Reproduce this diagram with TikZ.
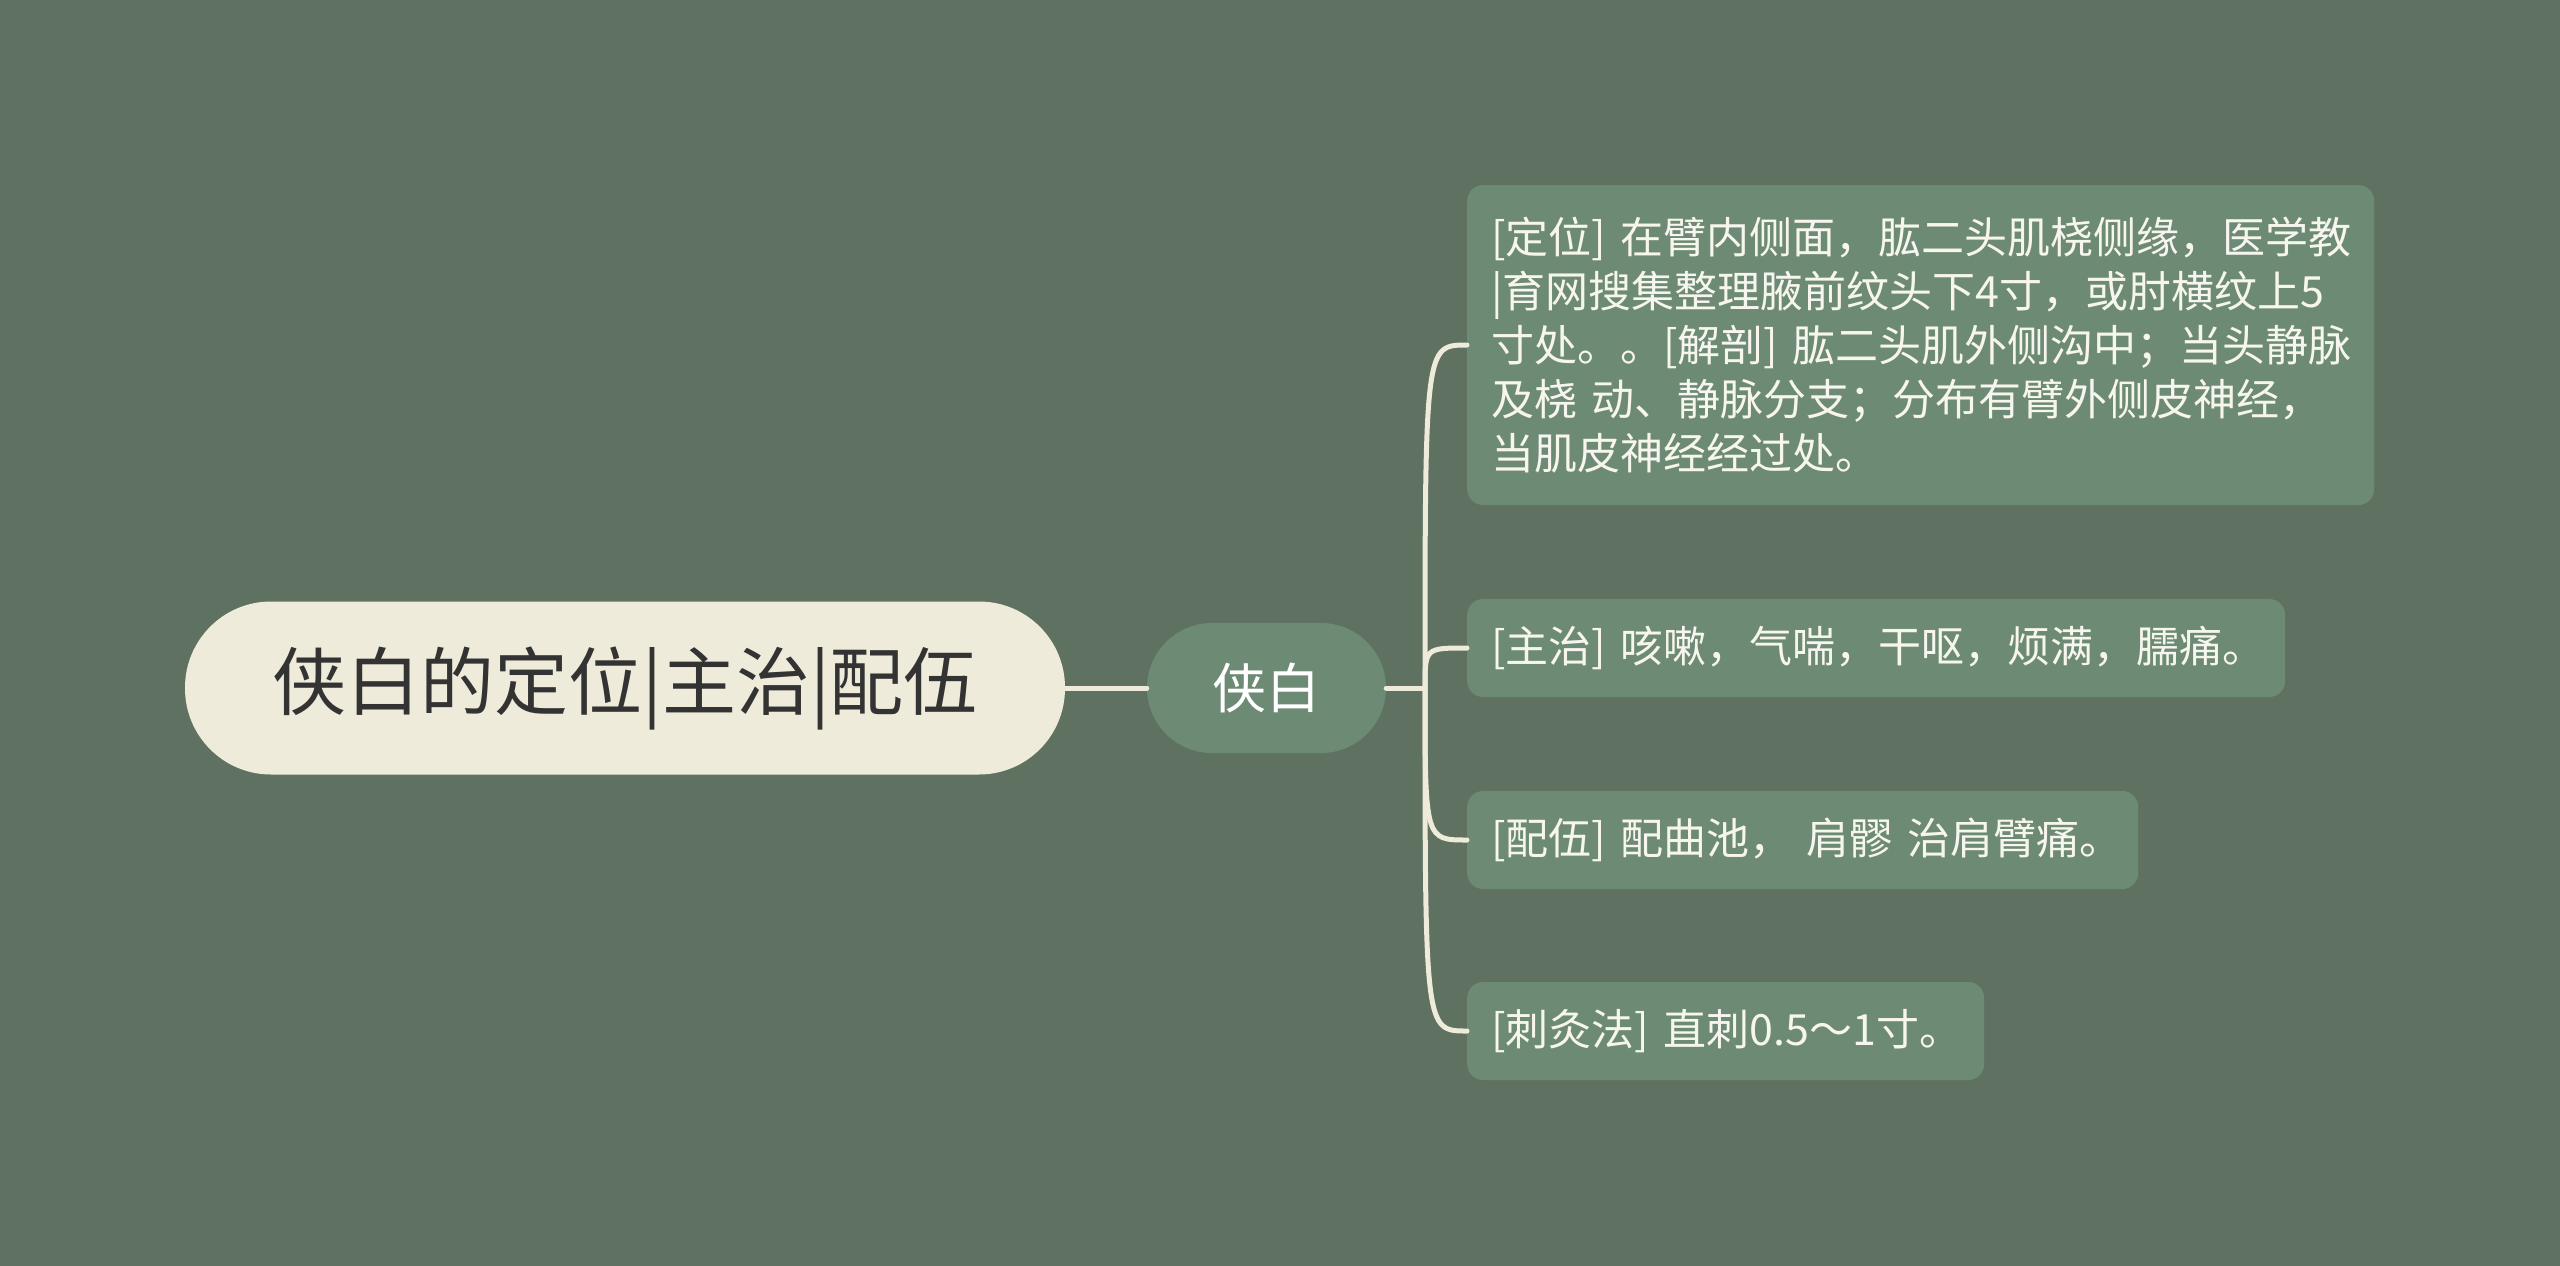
\documentclass[tikz,border=0pt]{standalone}
\usepackage{fontspec}
\newfontfamily\cjk{Noto Sans CJK SC}
\usetikzlibrary{positioning}
\definecolor{bgcol}{HTML}{5F7262}
\definecolor{leaffill}{HTML}{6D8A74}
\definecolor{rootfill}{HTML}{EFEBDA}
\definecolor{roottext}{HTML}{333333}
\definecolor{linkcol}{HTML}{EFEBDA}
\definecolor{leaftext}{HTML}{F6F5EE}
\tikzset{%
  rootnode/.style = {shape=rectangle, rounded corners=86pt, fill=rootfill,%
                     text=roottext, minimum width=880pt, minimum height=173pt,%
                     inner sep=0pt, font=\cjk\fontsize{74}{80}\selectfont},%
  mainnode/.style = {shape=rectangle, rounded corners=65pt, fill=leaffill,%
                     text=white, minimum width=239pt, minimum height=130pt,%
                     inner sep=0pt, font=\cjk\fontsize{54}{60}\selectfont},%
  leafnode/.style = {shape=rectangle, rounded corners=16pt, fill=leaffill,%
                     text=leaftext, anchor=west, align=left,%
                     inner xsep=24pt, inner ysep=0pt, minimum height=98pt,%
                     font=\cjk\fontsize{43}{54}\selectfont},%
  link/.style     = {draw=linkcol, line width=5pt, line cap=round}%
}
\begin{document}
\begin{tikzpicture}[x=1pt, y=-1pt]
  \fill[bgcol] (0,0) rectangle (2560,1266);
  \useasboundingbox (0,0) rectangle (2560,1266);
  \node[rootnode] (root) at (625,688) {侠白的定位|主治|配伍};
  \node[mainnode] (xiabai) at (1266.5,688) {侠白};
  \coordinate (fork) at (1425,688);
  \node[leafnode, text width=859pt, minimum height=320pt] (dingwei) at (1467,345)
    {[定位]~在臂内侧面，肱二头肌桡侧缘，医学教\\
     |育网搜集整理腋前纹头下4寸，或肘横纹上5\\
     寸处。。[解剖]~肱二头肌外侧沟中；当头静脉\\
     及桡~动、静脉分支；分布有臂外侧皮神经，\\
     当肌皮神经经过处。};
  \node[leafnode, text width=770pt] (zhuzhi) at (1467,648) {[主治]~咳嗽，气喘，干呕，烦满，臑痛。};
  \node[leafnode, text width=623pt] (peiwu) at (1467,840) {[配伍]~配曲池，~肩髎~治肩臂痛。};
  \node[leafnode, text width=469pt] (cijiu) at (1467,1031) {[刺灸法]~直刺0.5～1寸。};
  \draw[link] (root) -- (xiabai);
  \draw[link] (xiabai.east) -- (fork);
  \foreach \leaf in {dingwei,zhuzhi,peiwu,cijiu}
    \draw[link] (fork) .. controls (fork |- \leaf.west) and (fork |- \leaf.west) .. (\leaf.west);
\end{tikzpicture}
\end{document}
